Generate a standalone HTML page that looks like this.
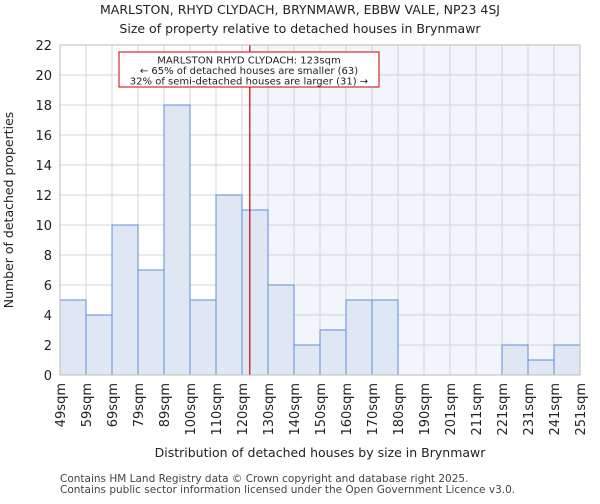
<!DOCTYPE html>
<html><head><meta charset="utf-8"><style>
body{margin:0;background:#fff;font-family:"DejaVu Sans","Liberation Sans",sans-serif;}
</style></head><body>
<svg id="chart" width="600" height="500" xmlns="http://www.w3.org/2000/svg" font-family="DejaVu Sans, Liberation Sans, sans-serif">
<text x="300" y="14" text-anchor="middle" font-size="12.5" fill="#222">MARLSTON, RHYD CLYDACH, BRYNMAWR, EBBW VALE, NP23 4SJ</text>
<text x="300" y="33" text-anchor="middle" font-size="12.5" fill="#222">Size of property relative to detached houses in Brynmawr</text>
<g id="plot"></g>
<text x="320" y="457" text-anchor="middle" font-size="12.5" fill="#222">Distribution of detached houses by size in Brynmawr</text>
<text transform="translate(13,210) rotate(-90)" text-anchor="middle" font-size="12.5" fill="#222">Number of detached properties</text>
<text x="60" y="482" font-size="10.5" fill="#444">Contains HM Land Registry data © Crown copyright and database right 2025.</text>
<text x="60" y="493" font-size="10.5" fill="#444">Contains public sector information licensed under the Open Government Licence v3.0.</text>
</svg>
<script>
const categories=["49sqm","59sqm","69sqm","79sqm","89sqm","100sqm","110sqm","120sqm","130sqm","140sqm","150sqm","160sqm","170sqm","180sqm","190sqm","201sqm","211sqm","221sqm","231sqm","241sqm","251sqm"];
const counts=[5,4,10,7,18,5,12,11,6,2,3,5,5,0,0,0,0,2,1,2];
const yTicks=[0,2,4,6,8,10,12,14,16,18,20,22];
const markerBinPos=7.3;
const NS="http://www.w3.org/2000/svg";
const L=60,R=580,T=45,B=375,yMax=22;
const bw=(R-L)/counts.length;
const xs=i=>L+i*bw;
const ys=v=>B-(B-T)*v/yMax;
const g=document.getElementById('plot');
function mk(t,a){const e=document.createElementNS(NS,t);for(const k in a)e.setAttribute(k,a[k]);g.appendChild(e);return e;}
let e=mk('rect',{x:xs(markerBinPos),y:T,width:R-xs(markerBinPos),height:B-T,fill:'#f2f5fc'});


yTicks.forEach(v=>{
 let l=mk('line',{x1:L,x2:R,y1:ys(v),y2:ys(v),stroke:'#d4d4d4','stroke-width':1});
 
 
 let t=mk('text',{x:L-8,y:ys(v)+5,'text-anchor':'end','font-size':13,fill:'#222'});t.textContent=v;
 
 
});
categories.forEach((c,i)=>{
 let l=mk('line',{x1:xs(i),x2:xs(i),y1:T,y2:B,stroke:'#d4d4d4','stroke-width':1});
 
 
 let t=mk('text',{transform:`translate(${xs(i)+5},${B+8}) rotate(-90)`,'text-anchor':'end','font-size':13,fill:'#222'});t.textContent=c;
 
 
});
counts.forEach((v,i)=>{
 if(v<=0)return;
 let r=mk('rect',{x:xs(i),y:ys(v),width:bw,height:B-ys(v),fill:'#dfe7f5',stroke:'#5b8fd6','stroke-width':1});
 
 
});
e=mk('line',{x1:xs(markerBinPos),x2:xs(markerBinPos),y1:T,y2:B,stroke:'#cc0000','stroke-width':1.2});


e=mk('rect',{x:119,y:52,width:260,height:35,fill:'#fff',stroke:'#cc0000','stroke-width':1});


["MARLSTON RHYD CLYDACH: 123sqm","← 65% of detached houses are smaller (63)","32% of semi-detached houses are larger (31) →"].forEach((s,k)=>{
 let t=mk('text',{x:249,y:63.5+k*10.5,'text-anchor':'middle','font-size':10,fill:'#222'});t.textContent=s;
 
 
});
e=mk('rect',{x:L,y:T,width:R-L,height:B-T,fill:'none',stroke:'#bbb','stroke-width':1});


</script>
</body></html>
